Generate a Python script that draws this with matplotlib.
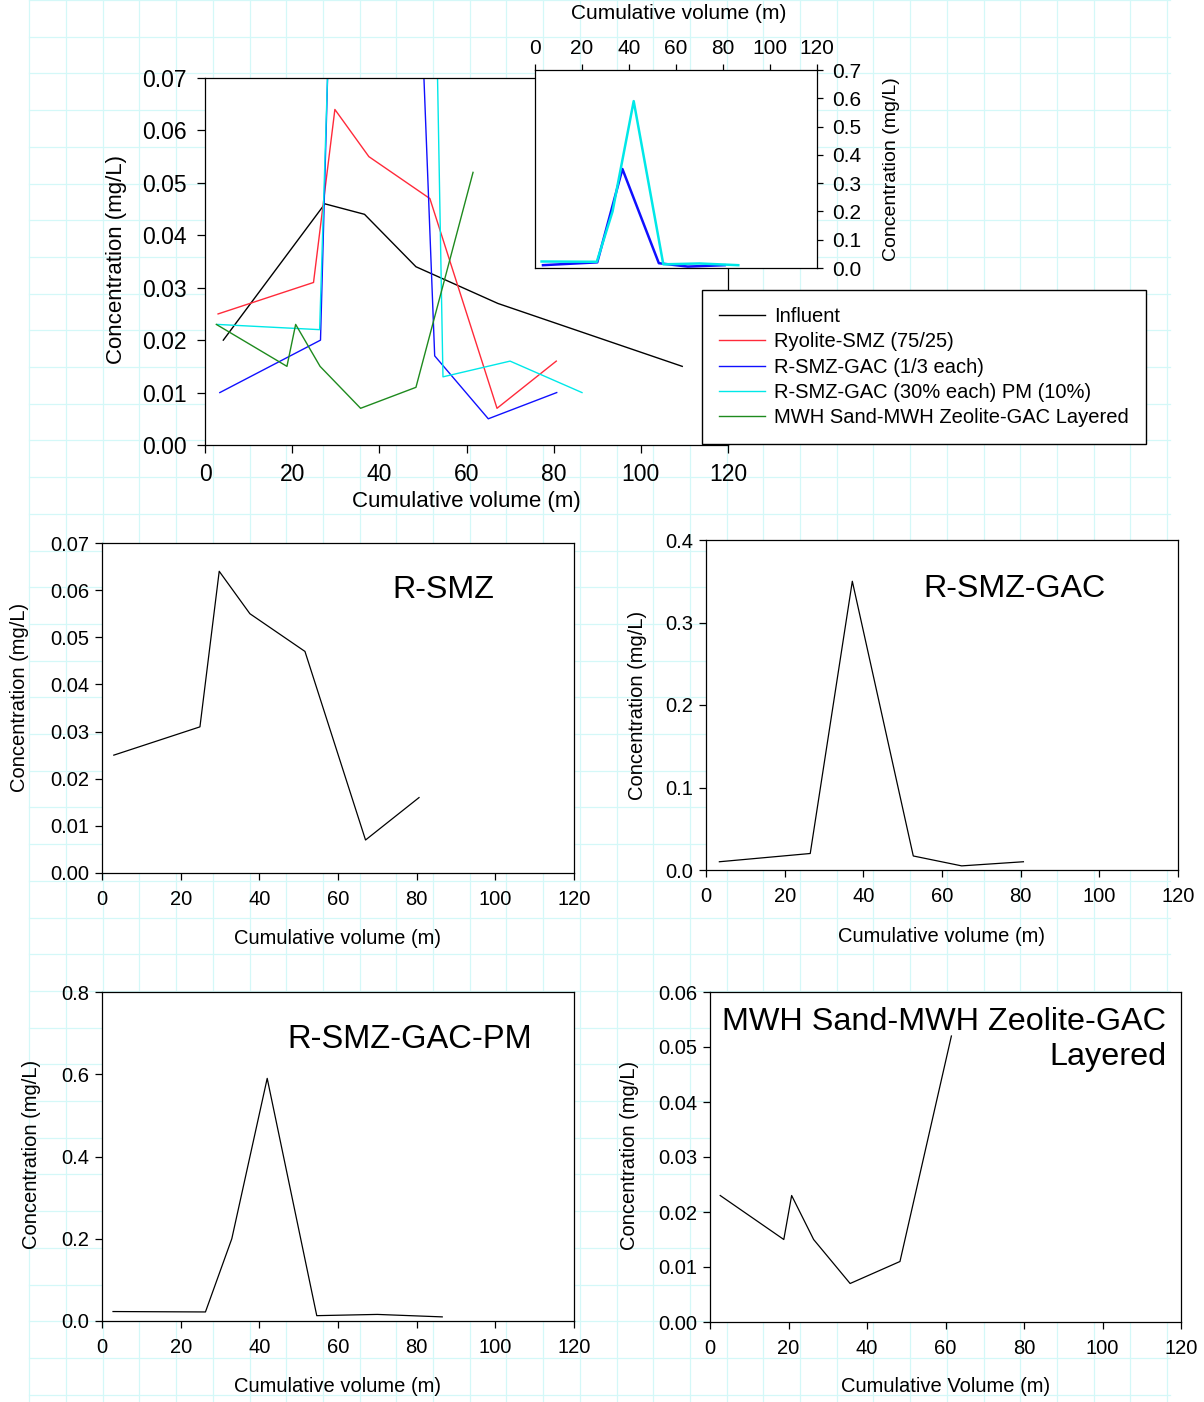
import matplotlib
matplotlib.use("Agg")
import matplotlib.pyplot as plt
from matplotlib.ticker import FormatStrFormatter, MultipleLocator

plt.rcParams['font.family'] = ['Liberation Sans', 'DejaVu Sans']

# ---------------- data ----------------
series_names = ["Influent", "Ryolite-SMZ (75/25)", "R-SMZ-GAC (1/3 each)",
                "R-SMZ-GAC (30% each) PM (10%)", "MWH Sand-MWH Zeolite-GAC Layered"]

vol_influent = [4.2, 27.5, 36.6, 48.4, 67.2, 109.5]
conc_influent = [0.020, 0.046, 0.044, 0.034, 0.027, 0.015]

vol_rsmz = [3.0, 24.9, 29.8, 37.6, 51.6, 67.0, 80.6]
conc_rsmz = [0.025, 0.031, 0.064, 0.055, 0.047, 0.007, 0.016]

vol_gac = [3.4, 26.5, 37.2, 52.7, 65.0, 80.7]
conc_gac = [0.010, 0.020, 0.350, 0.017, 0.005, 0.010]

vol_pm = [2.8, 26.3, 33.0, 42.0, 54.6, 70.0, 86.5]
conc_pm = [0.023, 0.022, 0.200, 0.590, 0.013, 0.016, 0.010]

vol_mwh = [2.6, 18.8, 20.8, 26.4, 35.7, 48.4, 61.5]
conc_mwh = [0.023, 0.015, 0.023, 0.015, 0.007, 0.011, 0.052]

colors = ["black", "#ff2a3a", "#1010ff", "#00e8e8", "#1e8a1e"]

x_ticks = [0, 20, 40, 60, 80, 100, 120]

# ---------------- figure ----------------
W, H = 1204, 1402
fig = plt.figure(figsize=(W / 100, H / 100), dpi=100)
fig.patch.set_facecolor("white")

# graph-paper background
bg = fig.add_axes([0, 0, 1, 1], zorder=-10)
bg.set_xlim(0, W)
bg.set_ylim(H, 0)
bg.axis("off")
step = 36.7
gx0, gx1 = 29.3, 1170
grid_c = "#d4f8f8"
k = 0
while gx0 + k * step <= gx1:
    bg.axvline(gx0 + k * step, color=grid_c, lw=0.9)
    k += 1
k = 0
while k * step <= H:
    bg.plot([gx0, gx1], [k * step, k * step], color=grid_c, lw=0.9)
    k += 1


def ax_at(left, top, right, bottom, **kw):
    return fig.add_axes([left / W, 1 - bottom / H, (right - left) / W, (bottom - top) / H], **kw)


def style_axes(ax, lw=0.9):
    for s in ax.spines.values():
        s.set_linewidth(lw)
        s.set_color("black")


# ---------------- main combined plot ----------------
ax = ax_at(205, 78, 728, 445)
style_axes(ax)
lines = []
for xs, ys, c, n in zip([vol_influent, vol_rsmz, vol_gac, vol_pm, vol_mwh],
                        [conc_influent, conc_rsmz, conc_gac, conc_pm, conc_mwh],
                        colors, series_names):
    ln, = ax.plot(xs, ys, color=c, lw=1.0, label=n)
    lines.append(ln)
ax.set_xlim(0, 120)
ax.set_ylim(0, 0.07)
ax.set_xticks(x_ticks)
ax.yaxis.set_major_locator(MultipleLocator(0.01))
ax.yaxis.set_major_formatter(FormatStrFormatter("%.2f"))
ax.tick_params(direction="out", length=6, width=0.9, labelsize=16.5)
ax.tick_params(axis="x", pad=7)
ax.tick_params(axis="y", pad=7)
ax.set_xlabel("Cumulative volume (m)", fontsize=16, va="center")
ax.xaxis.set_label_coords(0.5, (445 - 502) / 367)
ax.set_ylabel("Concentration (mg/L)", fontsize=16, va="center")
ax.yaxis.set_label_coords((116.5 - 205) / 523, (445 - 260) / 367)

# ---------------- inset ----------------
ins = ax_at(535, 70, 817, 268)
ins.set_zorder(3)
ins.set_facecolor("white")
style_axes(ins)
ins.plot(vol_gac, conc_gac, color=colors[2], lw=1.8)
ins.plot(vol_pm, conc_pm, color=colors[3], lw=1.8)
ins.set_xlim(0, 120)
ins.set_ylim(0, 0.7)
ins.set_xticks(x_ticks)
ins.yaxis.set_major_locator(MultipleLocator(0.1))
ins.yaxis.set_major_formatter(FormatStrFormatter("%.1f"))
ins.xaxis.tick_top()
ins.yaxis.tick_right()
ins.tick_params(direction="out", length=4, width=0.9, labelsize=15)
ins.tick_params(axis="x", pad=5)
ins.tick_params(axis="y", pad=7)
ins.set_xlabel("Cumulative volume (m)", fontsize=15, va="center")
ins.xaxis.set_label_position("top")
ins.xaxis.set_label_coords((679 - 535) / 282, (268 - 19) / 198)
ins.set_ylabel("Concentration (mg/L)", fontsize=14, va="center")
ins.yaxis.set_label_position("right")
ins.yaxis.set_label_coords((882.5 - 535) / 282, 0.5)

# legend
leg = fig.legend(handles=lines, loc="upper left", bbox_to_anchor=(702 / W, 1 - 290 / H),
                 borderaxespad=0, fontsize=14.5, handlelength=2.3, handletextpad=0.45,
                 borderpad=0.83, labelspacing=0.32, fancybox=False, framealpha=1,
                 edgecolor="black")
leg.get_frame().set_linewidth(1.0)

# ---------------- small panels ----------------
panels = [
    dict(box=(102, 543, 574, 873), x=vol_rsmz, y=conc_rsmz, ylim=0.07, ystep=0.01, fmt="%.2f",
         xlabel="Cumulative volume (m)", xl=938.5, yl=(20, 697.5)),
    dict(box=(706, 540, 1178, 870), x=vol_gac, y=conc_gac, ylim=0.4, ystep=0.1, fmt="%.1f",
         xlabel="Cumulative volume (m)", xl=936.7, yl=(637.5, 705)),
    dict(box=(102, 992, 574, 1321), x=vol_pm, y=conc_pm, ylim=0.8, ystep=0.2, fmt="%.1f",
         xlabel="Cumulative volume (m)", xl=1386.7, yl=(32, 1154)),
    dict(box=(710, 992, 1181, 1322), x=vol_mwh, y=conc_mwh, ylim=0.06, ystep=0.01, fmt="%.2f",
         xlabel="Cumulative Volume (m)", xl=1386.7, yl=(629.8, 1155.7)),
]
for p in panels:
    l, t, r, b = p["box"]
    a = ax_at(l, t, r, b)
    style_axes(a)
    a.plot(p["x"], p["y"], color="black", lw=0.9)
    a.set_xlim(0, 120)
    a.set_ylim(0, p["ylim"])
    a.set_xticks(x_ticks)
    a.yaxis.set_major_locator(MultipleLocator(p["ystep"]))
    a.yaxis.set_major_formatter(FormatStrFormatter(p["fmt"]))
    a.tick_params(direction="out", length=5, width=0.9, labelsize=14.5)
    a.tick_params(axis="x", pad=7)
    a.tick_params(axis="y", pad=4)
    a.set_xlabel(p["xlabel"], fontsize=14.5, va="center")
    a.xaxis.set_label_coords(0.5, (b - p["xl"]) / (b - t))
    a.set_ylabel("Concentration (mg/L)", fontsize=14.5, va="center")
    a.yaxis.set_label_coords((p["yl"][0] - l) / (r - l), (b - p["yl"][1]) / (b - t))

# panel titles (baseline positions in pixels)
def ftext(px, py, s, **kw):
    fig.text(px / W, 1 - py / H, s, **kw)

ftext(443, 598, "R-SMZ", fontsize=23.2, ha="center", va="baseline")
ftext(1014, 596.7, "R-SMZ-GAC", fontsize=23.2, ha="center", va="baseline")
ftext(410, 1048.3, "R-SMZ-GAC-PM", fontsize=23.5, ha="center", va="baseline")
ftext(1166, 1030, "MWH Sand-MWH Zeolite-GAC", fontsize=23.3, ha="right", va="baseline")
ftext(1166, 1065, "Layered", fontsize=23.3, ha="right", va="baseline")

fig.savefig("out.png", dpi=100)
